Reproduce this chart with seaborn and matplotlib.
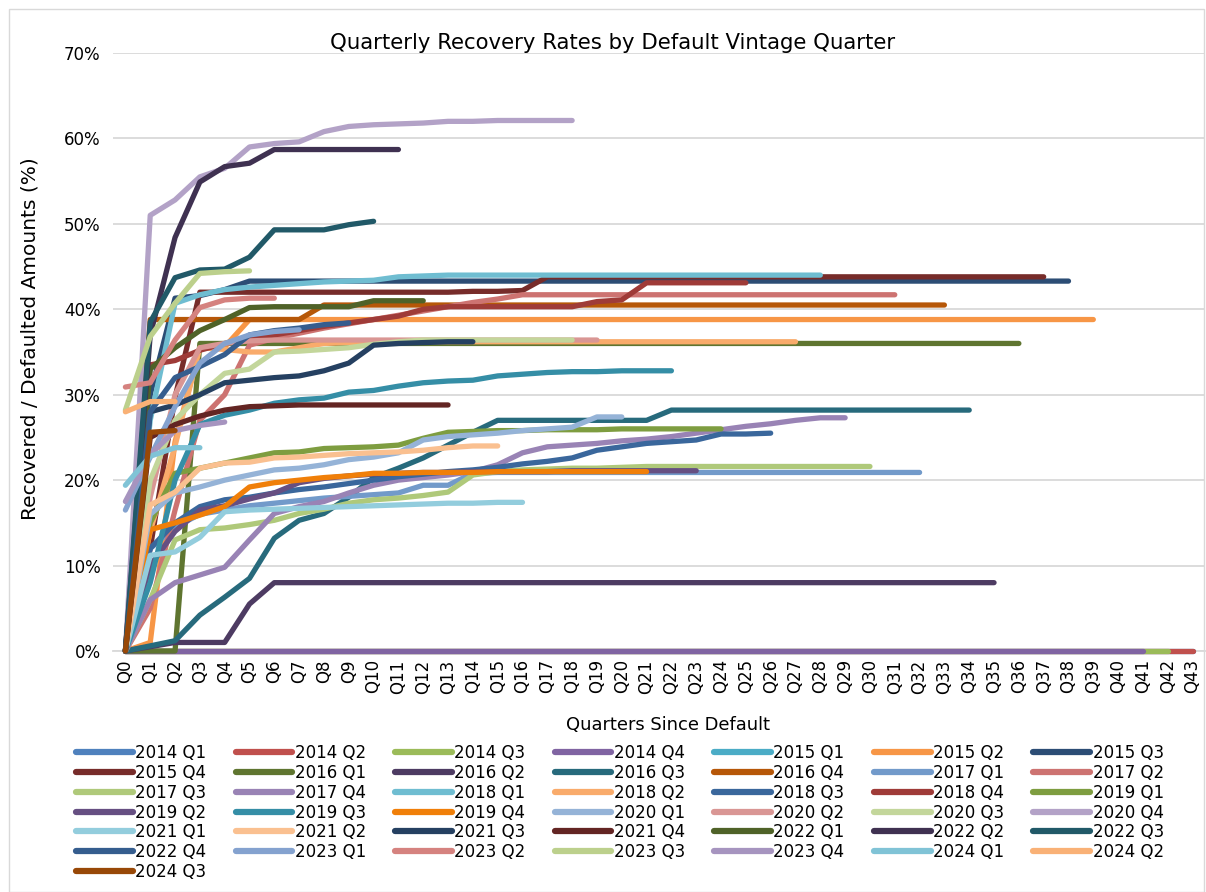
import numpy as np
import pandas as pd
import seaborn as sns
import matplotlib.pyplot as plt
from matplotlib.lines import Line2D
from matplotlib.patches import Rectangle

# vintage labels, legend order
vintages = ['2014 Q1', '2014 Q2', '2014 Q3', '2014 Q4',
            '2015 Q1', '2015 Q2', '2015 Q3', '2015 Q4',
            '2016 Q1', '2016 Q2', '2016 Q3', '2016 Q4',
            '2017 Q1', '2017 Q2', '2017 Q3', '2017 Q4',
            '2018 Q1', '2018 Q2', '2018 Q3', '2018 Q4',
            '2019 Q1', '2019 Q2', '2019 Q3', '2019 Q4',
            '2020 Q1', '2020 Q2', '2020 Q3', '2020 Q4',
            '2021 Q1', '2021 Q2', '2021 Q3', '2021 Q4',
            '2022 Q1', '2022 Q2', '2022 Q3', '2022 Q4',
            '2023 Q1', '2023 Q2', '2023 Q3', '2023 Q4',
            '2024 Q1', '2024 Q2', '2024 Q3']

quarters = ['Q0', 'Q1', 'Q2', 'Q3', 'Q4', 'Q5', 'Q6', 'Q7', 'Q8', 'Q9',
            'Q10', 'Q11', 'Q12', 'Q13', 'Q14', 'Q15', 'Q16', 'Q17', 'Q18', 'Q19',
            'Q20', 'Q21', 'Q22', 'Q23', 'Q24', 'Q25', 'Q26', 'Q27', 'Q28', 'Q29',
            'Q30', 'Q31', 'Q32', 'Q33', 'Q34', 'Q35', 'Q36', 'Q37', 'Q38', 'Q39',
            'Q40', 'Q41', 'Q42', 'Q43']

ytick_labels = ['0%', '10%', '20%', '30%', '40%', '50%', '60%', '70%']

# cumulative recovery (%) by quarter since default, Q0 onwards
r2014q1 = [0, 0, 0, 0, 0, 0, 0, 0, 0, 0, 0, 0, 0, 0, 0, 0, 0, 0, 0, 0, 0, 0,
           0, 0, 0, 0, 0, 0, 0, 0, 0, 0, 0, 0, 0, 0, 0, 0, 0, 0, 0, 0, 0, 0]
r2014q2 = [0, 0, 0, 0, 0, 0, 0, 0, 0, 0, 0, 0, 0, 0, 0, 0, 0, 0, 0, 0, 0, 0,
           0, 0, 0, 0, 0, 0, 0, 0, 0, 0, 0, 0, 0, 0, 0, 0, 0, 0, 0, 0, 0, 0]
r2014q3 = [0, 0, 0, 0, 0, 0, 0, 0, 0, 0, 0, 0, 0, 0, 0, 0, 0, 0, 0, 0, 0, 0,
           0, 0, 0, 0, 0, 0, 0, 0, 0, 0, 0, 0, 0, 0, 0, 0, 0, 0, 0, 0, 0]
r2014q4 = [0, 0, 0, 0, 0, 0, 0, 0, 0, 0, 0, 0, 0, 0, 0, 0, 0, 0, 0, 0, 0, 0,
           0, 0, 0, 0, 0, 0, 0, 0, 0, 0, 0, 0, 0, 0, 0, 0, 0, 0, 0, 0]
r2015q1 = []
r2015q2 = [0, 1.0, 24.5, 35.5, 35.6, 38.8, 38.8, 38.8, 38.8, 38.8, 38.8, 38.8,
           38.8, 38.8, 38.8, 38.8, 38.8, 38.8, 38.8, 38.8, 38.8, 38.8, 38.8, 38.8,
           38.8, 38.8, 38.8, 38.8, 38.8, 38.8, 38.8, 38.8, 38.8, 38.8, 38.8, 38.8,
           38.8, 38.8, 38.8, 38.8]
r2015q3 = [0, 30.0, 41.3, 41.6, 42.3, 43.3, 43.3, 43.3, 43.3, 43.3, 43.3, 43.3,
           43.3, 43.3, 43.3, 43.3, 43.3, 43.3, 43.3, 43.3, 43.3, 43.3, 43.3, 43.3,
           43.3, 43.3, 43.3, 43.3, 43.3, 43.3, 43.3, 43.3, 43.3, 43.3, 43.3, 43.3,
           43.3, 43.3, 43.3]
r2015q4 = [0, 12.0, 29.7, 42.0, 42.0, 42.0, 42.0, 42.0, 42.0, 42.0, 42.0, 42.0,
           42.0, 42.0, 42.1, 42.1, 42.2, 43.8, 43.8, 43.8, 43.8, 43.8, 43.8, 43.8,
           43.8, 43.8, 43.8, 43.8, 43.8, 43.8, 43.8, 43.8, 43.8, 43.8, 43.8, 43.8,
           43.8, 43.8]
r2016q1 = [0, 0, 0, 36.0, 36.0, 36.0, 36.0, 36.0, 36.0, 36.0, 36.0, 36.0,
           36.0, 36.0, 36.0, 36.0, 36.0, 36.0, 36.0, 36.0, 36.0, 36.0, 36.0, 36.0,
           36.0, 36.0, 36.0, 36.0, 36.0, 36.0, 36.0, 36.0, 36.0, 36.0, 36.0, 36.0,
           36.0]
r2016q2 = [0, 0.5, 1.0, 1.0, 1.0, 5.5, 8.0, 8.0, 8.0, 8.0, 8.0, 8.0,
           8.0, 8.0, 8.0, 8.0, 8.0, 8.0, 8.0, 8.0, 8.0, 8.0, 8.0, 8.0,
           8.0, 8.0, 8.0, 8.0, 8.0, 8.0, 8.0, 8.0, 8.0, 8.0, 8.0, 8.0]
r2016q3 = [0, 0.6, 1.2, 4.2, 6.3, 8.5, 13.2, 15.3, 16.1, 18.0, 20.3, 21.4,
           22.6, 24.1, 25.6, 27.0, 27.0, 27.0, 27.0, 27.0, 27.0, 27.0, 28.2, 28.2,
           28.2, 28.2, 28.2, 28.2, 28.2, 28.2, 28.2, 28.2, 28.2, 28.2, 28.2]
r2016q4 = [0, 38.8, 38.8, 38.8, 38.8, 38.8, 38.8, 38.8, 40.5, 40.5, 40.5, 40.5,
           40.5, 40.5, 40.5, 40.5, 40.5, 40.5, 40.5, 40.5, 40.5, 40.5, 40.5, 40.5,
           40.5, 40.5, 40.5, 40.5, 40.5, 40.5, 40.5, 40.5, 40.5, 40.5]
r2017q1 = [0, 12.0, 14.5, 16.0, 16.5, 17.0, 17.3, 17.6, 17.9, 18.1, 18.3, 18.5,
           19.4, 19.4, 20.8, 20.9, 20.9, 20.9, 20.9, 20.9, 20.9, 20.9, 20.9, 20.9,
           20.9, 20.9, 20.9, 20.9, 20.9, 20.9, 20.9, 20.9, 20.9]
r2017q2 = [0, 5.0, 16.5, 27.0, 30.0, 35.8, 36.6, 37.2, 37.8, 38.3, 38.8, 39.3,
           39.8, 40.3, 40.8, 41.2, 41.7, 41.7, 41.7, 41.7, 41.7, 41.7, 41.7, 41.7,
           41.7, 41.7, 41.7, 41.7, 41.7, 41.7, 41.7, 41.7]
r2017q3 = [0, 6.0, 13.0, 14.2, 14.4, 14.8, 15.3, 16.1, 16.6, 17.3, 17.7, 17.9,
           18.2, 18.6, 20.6, 21.0, 21.2, 21.3, 21.4, 21.4, 21.5, 21.6, 21.6, 21.6,
           21.6, 21.6, 21.6, 21.6, 21.6, 21.6, 21.6]
r2017q4 = [0, 6.0, 8.0, 8.9, 9.8, 13.0, 16.1, 16.9, 17.5, 18.5, 19.4, 20.0,
           20.3, 20.6, 21.0, 21.8, 23.2, 23.9, 24.1, 24.3, 24.6, 24.8, 25.1, 25.5,
           25.9, 26.3, 26.6, 27.0, 27.3, 27.3]
r2018q1 = [0, 27.0, 40.7, 41.7, 42.3, 42.6, 42.8, 43.0, 43.2, 43.3, 43.4, 43.8,
           43.9, 44.0, 44.0, 44.0, 44.0, 44.0, 44.0, 44.0, 44.0, 44.0, 44.0, 44.0,
           44.0, 44.0, 44.0, 44.0, 44.0]
r2018q2 = [0, 14.0, 24.0, 35.5, 35.3, 35.0, 35.0, 35.5, 36.0, 36.1, 36.2, 36.2,
           36.2, 36.2, 36.2, 36.2, 36.2, 36.2, 36.2, 36.2, 36.2, 36.2, 36.2, 36.2,
           36.2, 36.2, 36.2, 36.2]
r2018q3 = [0, 12.0, 15.0, 16.9, 17.7, 18.0, 18.5, 18.9, 19.2, 19.6, 20.0, 20.4,
           20.7, 21.0, 21.2, 21.5, 21.9, 22.2, 22.6, 23.5, 23.9, 24.3, 24.5, 24.7,
           25.4, 25.4, 25.5]
r2018q4 = [0, 33.5, 34.0, 35.2, 36.0, 36.5, 37.0, 37.5, 38.0, 38.4, 38.8, 39.2,
           40.0, 40.3, 40.3, 40.3, 40.3, 40.3, 40.3, 40.9, 41.1, 43.1, 43.1, 43.1,
           43.1, 43.1]
r2019q1 = [0, 15.0, 20.8, 21.4, 22.0, 22.6, 23.2, 23.3, 23.7, 23.8, 23.9, 24.1,
           24.9, 25.6, 25.7, 25.8, 25.8, 25.9, 25.9, 25.9, 26.0, 26.0, 26.0, 26.0,
           26.0]
r2019q2 = [0, 10.0, 14.0, 16.5, 17.0, 17.8, 18.5, 19.7, 20.2, 20.5, 20.7, 20.8,
           20.9, 20.9, 21.0, 21.0, 21.0, 21.0, 21.1, 21.1, 21.1, 21.1, 21.1, 21.1]
r2019q3 = [0, 8.0, 20.0, 26.5, 27.6, 28.2, 29.0, 29.4, 29.6, 30.3, 30.5, 31.0,
           31.4, 31.6, 31.7, 32.2, 32.4, 32.6, 32.7, 32.7, 32.8, 32.8, 32.8]
r2019q4 = [0, 14.2, 15.0, 15.9, 16.9, 19.2, 19.7, 20.0, 20.3, 20.5, 20.8, 20.8,
           20.9, 20.9, 20.9, 21.0, 21.0, 21.0, 21.0, 21.0, 21.0, 21.0]
r2020q1 = [0, 16.0, 18.5, 19.2, 20.0, 20.6, 21.2, 21.4, 21.8, 22.4, 22.7, 23.2,
           24.7, 25.1, 25.3, 25.5, 25.8, 26.0, 26.2, 27.4, 27.4]
r2020q2 = [0, 18.0, 30.0, 35.5, 36.0, 36.3, 36.4, 36.4, 36.4, 36.4, 36.4, 36.4,
           36.4, 36.4, 36.4, 36.4, 36.4, 36.4, 36.4, 36.4]
r2020q3 = [0, 20.0, 27.0, 30.0, 32.5, 33.0, 35.0, 35.1, 35.3, 35.5, 35.9, 36.2,
           36.4, 36.4, 36.4, 36.4, 36.4, 36.4, 36.4]
r2020q4 = [0, 51.0, 52.8, 55.5, 56.5, 59.0, 59.4, 59.6, 60.8, 61.4, 61.6, 61.7,
           61.8, 62.0, 62.0, 62.1, 62.1, 62.1, 62.1]
r2021q1 = [0, 11.2, 11.6, 13.3, 16.3, 16.5, 16.6, 16.7, 16.8, 16.9, 17.0, 17.1,
           17.2, 17.3, 17.3, 17.4, 17.4]
r2021q2 = [0, 17.1, 18.6, 21.4, 22.0, 22.1, 22.6, 22.7, 22.9, 23.1, 23.2, 23.3,
           23.5, 23.8, 24.0, 24.0]
r2021q3 = [0, 28.0, 28.8, 30.0, 31.4, 31.7, 32.0, 32.2, 32.8, 33.7, 35.8, 36.0,
           36.1, 36.2, 36.2]
r2021q4 = [0, 25.0, 26.5, 27.5, 28.2, 28.6, 28.7, 28.8, 28.8, 28.8, 28.8, 28.8,
           28.8, 28.8]
r2022q1 = [0, 33.0, 35.5, 37.5, 38.8, 40.2, 40.3, 40.3, 40.3, 40.3, 41.0, 41.0, 41.0]
r2022q2 = [0, 37.0, 48.4, 54.9, 56.7, 57.1, 58.7, 58.7, 58.7, 58.7, 58.7, 58.7]
r2022q3 = [0, 38.5, 43.7, 44.6, 44.7, 46.1, 49.3, 49.3, 49.3, 49.9, 50.3]
r2022q4 = [0, 28.0, 32.0, 33.3, 34.7, 37.0, 37.5, 37.8, 38.2, 38.4]
r2023q1 = [16.5, 22.7, 28.6, 33.7, 36.0, 37.0, 37.4, 37.6]
r2023q2 = [30.9, 31.4, 36.4, 40.2, 41.1, 41.3, 41.3]
r2023q3 = [28.2, 36.8, 40.7, 44.2, 44.4, 44.5]
r2023q4 = [17.5, 23.0, 25.8, 26.4, 26.8]
r2024q1 = [19.4, 22.8, 23.8, 23.8]
r2024q2 = [28.0, 29.2, 29.2]
r2024q3 = [0, 25.6, 25.8]

series = [r2014q1, r2014q2, r2014q3, r2014q4, r2015q1, r2015q2, r2015q3, r2015q4,
          r2016q1, r2016q2, r2016q3, r2016q4, r2017q1, r2017q2, r2017q3, r2017q4,
          r2018q1, r2018q2, r2018q3, r2018q4, r2019q1, r2019q2, r2019q3, r2019q4,
          r2020q1, r2020q2, r2020q3, r2020q4, r2021q1, r2021q2, r2021q3, r2021q4,
          r2022q1, r2022q2, r2022q3, r2022q4, r2023q1, r2023q2, r2023q3, r2023q4,
          r2024q1, r2024q2, r2024q3]

colors = ['#4F81BD', '#C0504D', '#9BBB59', '#8064A2', '#4BACC6', '#F79646',
          '#2C4D75', '#772C2A', '#5F7530', '#4D3B62', '#276A7C', '#B65708',
          '#729ACA', '#CD7371', '#AFC97A', '#9983B5', '#6FBDD1', '#F9AB6B',
          '#3A679C', '#9F3B38', '#7E9D40', '#664F82', '#358EA6', '#F07F09',
          '#95B3D7', '#D99694', '#C3D69B', '#B3A2C7', '#93CDDD', '#FAC090',
          '#254061', '#632523', '#4F6228', '#3F3151', '#215968', '#355D8E',
          '#84A2CF', '#D5827F', '#BCD08C', '#A694BF', '#80C3D6', '#F9B176',
          '#984807']
palette = dict(zip(vintages, colors))

rows = []
for name, vals in zip(vintages, series):
    for i, v in enumerate(vals):
        rows.append({'vintage': name, 'q': i, 'rate': v / 100})
df = pd.DataFrame(rows)

sns.set_style('white')
plt.rcParams['font.family'] = ['DejaVu Sans']
plt.rcParams['text.color'] = 'black'

W, H = 1206, 892
fig = plt.figure(figsize=(W / 100, H / 100), dpi=100)
ax = fig.add_axes([113 / W, 1 - 651 / H, (1205 - 113) / W, (651 - 53) / H])

sns.lineplot(data=df, x='q', y='rate', hue='vintage', hue_order=vintages,
             palette=palette, estimator=None, linewidth=3.8,
             solid_capstyle='round', clip_on=False, legend=False, ax=ax)

ax.set_xlim(-0.5, 43.5)
ax.set_ylim(0, 0.70)
ax.set_xticks(range(len(quarters)))
ax.set_xticklabels(quarters, rotation=90)
ax.set_yticks([0, 0.1, 0.2, 0.3, 0.4, 0.5, 0.6, 0.7])
ax.set_yticklabels(ytick_labels)
ax.tick_params(axis='both', length=0, labelsize=12, colors='#000000')
ax.tick_params(axis='y', pad=9)
ax.tick_params(axis='x', pad=6)
ax.set_xlabel('')
ax.set_ylabel('')
ax.yaxis.grid(True, color='#D9D9D9', linewidth=1.3)
ax.xaxis.grid(False)
ax.set_axisbelow(True)
for s in ['left', 'top', 'right']:
    ax.spines[s].set_visible(False)
ax.spines['bottom'].set_color('#D9D9D9')
ax.spines['bottom'].set_linewidth(1.3)
ax.spines['bottom'].set_zorder(0)

fig.text(613 / W, 1 - 43 / H, 'Quarterly Recovery Rates by Default Vintage Quarter',
         ha='center', va='center', fontsize=15.3, color='black')
fig.text(30 / W, 1 - 339 / H, 'Recovered / Defaulted Amounts (%)',
         ha='center', va='center', rotation=90, fontsize=14.5, color='black')
fig.text(668 / W, 1 - 725 / H, 'Quarters Since Default',
         ha='center', va='center', fontsize=12.9, color='black')

# legend laid out row by row like the original
handles = [Line2D([], [], color=c, lw=4.5, solid_capstyle='round') for c in colors]
order = [i for c in range(7) for i in range(c, len(vintages), 7)]
fig.legend([handles[i] for i in order], [vintages[i] for i in order], ncol=7,
           loc='upper left', bbox_to_anchor=(76 / W, 1 - 744 / H),
           frameon=False, fontsize=12, handlelength=3.4, handletextpad=0.15,
           columnspacing=1.75, labelspacing=0.11, borderpad=0, borderaxespad=0)

fig.add_artist(Rectangle((9 / W, 0.5 / H), (W - 11) / W, (H - 9.5) / H,
                         transform=fig.transFigure, fill=False,
                         edgecolor='#D9D9D9', linewidth=1))

fig.savefig('out.png', dpi=100)
